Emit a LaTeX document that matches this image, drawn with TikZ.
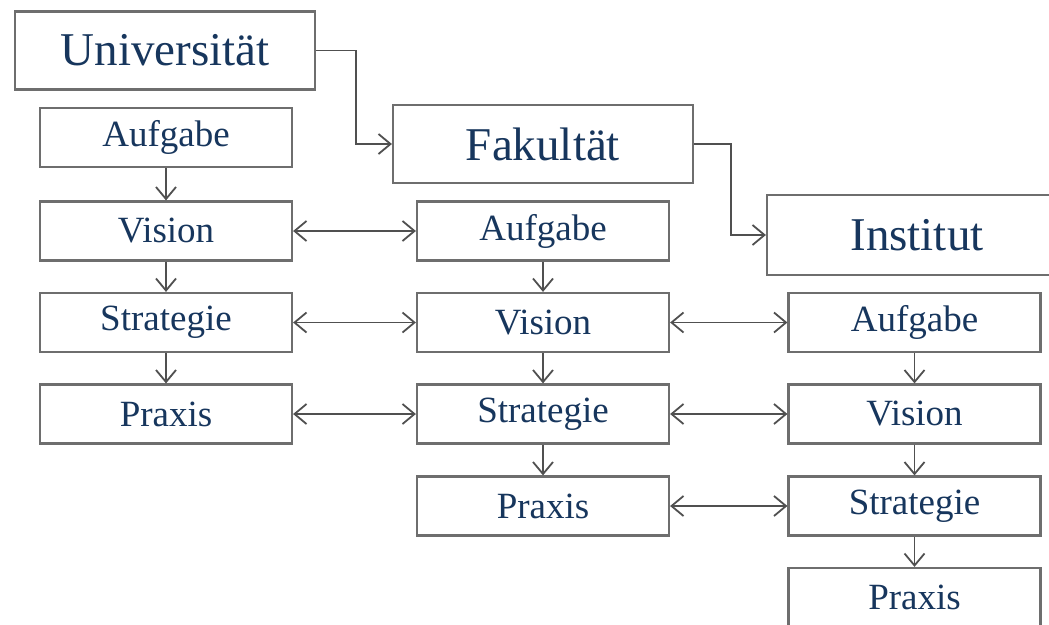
\documentclass[tikz,border=0pt]{standalone}
\usepackage{fontspec}
\setmainfont{Liberation Serif}
\usetikzlibrary{arrows.meta}
\definecolor{textblue}{RGB}{23,54,93}
\definecolor{boxgray}{RGB}{110,110,110}
\definecolor{arrowgray}{RGB}{80,80,80}
\begin{document}
\begin{tikzpicture}[x=1pt,y=1pt]
\tikzstyle{every node}+=[inner sep=0pt]
\tikzstyle{stage}=[draw=boxgray, fill=white, line width=2.2pt, minimum width=252pt, minimum height=59pt, text=textblue, font=\fontsize{37}{44}\selectfont]
\tikzstyle{level}=[stage, minimum width=300pt, minimum height=78pt, font=\fontsize{47}{56}\selectfont]
\tikzstyle{link}=[draw=arrowgray, line width=1.8pt, -{Straight Barb[length=12pt,width=20pt]}]
\useasboundingbox (0,0) rectangle (1049,-624);
\clip (0,0) rectangle (1049,-624);
% levels
\node [level] (uni) at (165,-50.5) {Universität};
\node [level] (fak) at (543,-144) {Fakultät};
\node [level, minimum height=80pt] (inst) at (917,-235) {Institut};
% university column
\node [stage] (aufU) at (166,-137.5) {Aufgabe};
\node [stage] (visU) at (166,-231) {Vision};
\node [stage] (strU) at (166,-322.5) {Strategie};
\node [stage] (praU) at (166,-414) {Praxis};
% faculty column
\node [stage] (aufF) at (543,-231) {Aufgabe};
\node [stage] (visF) at (543,-322.5) {Vision};
\node [stage] (strF) at (543,-414) {Strategie};
\node [stage] (praF) at (543,-506) {Praxis};
% institute column
\node [stage] (aufI) at (914.5,-322.5) {Aufgabe};
\node [stage] (visI) at (914.5,-414) {Vision};
\node [stage] (strI) at (914.5,-506) {Strategie};
\node [stage] (praI) at (914.5,-597.5) {Praxis};
% hierarchy
\draw [link] (uni.east) -- ++(40,0) |- (fak.west);
\draw [link] (fak.east) -- ++(37,0) |- (inst.west);
% chains
\draw [link] (aufU) -- (visU);
\draw [link] (visU) -- (strU);
\draw [link] (strU) -- (praU);
\draw [link] (aufF) -- (visF);
\draw [link] (visF) -- (strF);
\draw [link] (strF) -- (praF);
\draw [link] (aufI) -- (visI);
\draw [link] (visI) -- (strI);
\draw [link] (strI) -- (praI);
% exchange
\draw [link, {Straight Barb[length=12pt,width=20pt]}-{Straight Barb[length=12pt,width=20pt]}] (visU) -- (aufF);
\draw [link, {Straight Barb[length=12pt,width=20pt]}-{Straight Barb[length=12pt,width=20pt]}] (strU) -- (visF);
\draw [link, {Straight Barb[length=12pt,width=20pt]}-{Straight Barb[length=12pt,width=20pt]}] (praU) -- (strF);
\draw [link, {Straight Barb[length=12pt,width=20pt]}-{Straight Barb[length=12pt,width=20pt]}] (visF) -- (aufI);
\draw [link, {Straight Barb[length=12pt,width=20pt]}-{Straight Barb[length=12pt,width=20pt]}] (strF) -- (visI);
\draw [link, {Straight Barb[length=12pt,width=20pt]}-{Straight Barb[length=12pt,width=20pt]}] (praF) -- (strI);
\end{tikzpicture}
\end{document}
